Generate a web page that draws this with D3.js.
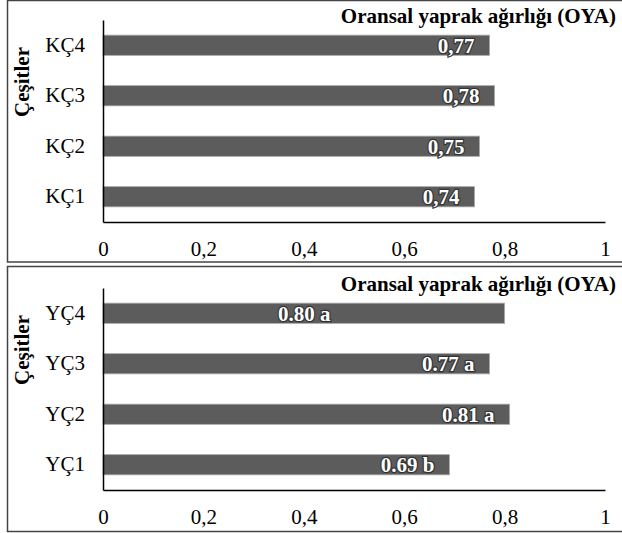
<!DOCTYPE html>
<html>
<head>
<meta charset="utf-8">
<script src="https://cdn.jsdelivr.net/npm/d3@7"></script>
<style>
  html, body { margin: 0; padding: 0; background: #fff; }
  svg { display: block; }
  text { font-family: "Liberation Serif", "Times New Roman", serif; }
</style>
</head>
<body>
<svg id="chart" width="622" height="533"></svg>
<script>
// Oransal yaprak ağırlığı (OYA) by cultivar, two groups
const chartTitle = "Oransal yaprak ağırlığı (OYA)";
const axisTitle = "Çeşitler";
const xTicks = [0, 0.2, 0.4, 0.6, 0.8, 1];

const kCategories = ["KÇ4", "KÇ3", "KÇ2", "KÇ1"];
const kValues = [0.77, 0.78, 0.75, 0.74];
const kLabels = ["0,77", "0,78", "0,75", "0,74"];

const yCategories = ["YÇ4", "YÇ3", "YÇ2", "YÇ1"];
const yValues = [0.80, 0.77, 0.81, 0.69];
const yLabels = ["0.80 a", "0.77 a", "0.81 a", "0.69 b"];

const svg = d3.select("#chart");
const serif = "'Liberation Serif', 'Times New Roman', serif";
const fmtTick = d => d === 0 || d === 1 ? String(d) : String(d).replace(".", ",");

function panel(top, height, plotTop, categories, values, labels, nudge) {
  const g = svg.append("g").attr("transform", `translate(0,${top})`);
  const plotBottom = plotTop + 202;

  // frame
  g.append("rect")
    .attr("x", 7.5).attr("y", 0.5)
    .attr("width", 640).attr("height", height)
    .attr("fill", "none").attr("stroke", "#444").attr("stroke-width", 1.5);

  const x = d3.scaleLinear().domain([0, 1]).range([103, 605]);
  const y = d3.scaleBand().domain(categories).range([plotTop, plotBottom])
    .paddingInner(0.6).paddingOuter(0.3);

  // bars
  g.selectAll("rect.bar").data(values).join("rect")
    .attr("class", "bar")
    .attr("x", x(0))
    .attr("y", (d, i) => y(categories[i]))
    .attr("width", d => x(d) - x(0))
    .attr("height", y.bandwidth())
    .attr("fill", "#5c5c5c")
    .attr("stroke", "#a8a8a8").attr("stroke-width", 0.8);

  // value labels inside bars
  g.selectAll("text.val").data(values).join("text")
    .attr("class", "val")
    .attr("x", (d, i) => x(d) - 15 + (nudge[categories[i]] || 0))
    .attr("y", (d, i) => y(categories[i]) + y.bandwidth() / 2)
    .attr("dy", "0.36em")
    .attr("text-anchor", "end")
    .attr("font-size", 21).attr("font-weight", "bold")
    .attr("fill", "#fff")
    .attr("stroke", "#333").attr("stroke-width", 2.4)
    .attr("paint-order", "stroke")
    .text((d, i) => labels[i]);

  // x axis
  const xa = g.append("g").attr("transform", `translate(0,${plotBottom})`)
    .call(d3.axisBottom(x).tickValues(xTicks).tickFormat(fmtTick).tickSize(0).tickPadding(19));
  xa.select(".domain").attr("stroke", "#000").attr("stroke-width", 1.5);
  xa.selectAll("text").attr("font-size", 21).attr("fill", "#000").style("font-family", serif);

  // y axis
  const ya = g.append("g").attr("transform", "translate(103,0)")
    .call(d3.axisLeft(y).tickSize(0).tickPadding(18));
  ya.select(".domain").attr("stroke", "#000").attr("stroke-width", 1.5);
  ya.selectAll("text").attr("font-size", 21).attr("fill", "#000").style("font-family", serif);

  // title
  g.append("text")
    .attr("x", 616).attr("y", plotTop + 3)
    .attr("text-anchor", "end")
    .attr("font-size", 21).attr("font-weight", "bold")
    .text(chartTitle);

  // axis title
  g.append("text")
    .attr("transform", `translate(29,${plotTop + 62}) rotate(-90)`)
    .attr("text-anchor", "middle")
    .attr("font-size", 21).attr("font-weight", "bold")
    .text(axisTitle);
}

panel(0, 261.5, 20, kCategories, kValues, kLabels, {});
panel(266, 265, 22, yCategories, yValues, yLabels, { "YÇ4": -159 });
</script>
</body>
</html>
